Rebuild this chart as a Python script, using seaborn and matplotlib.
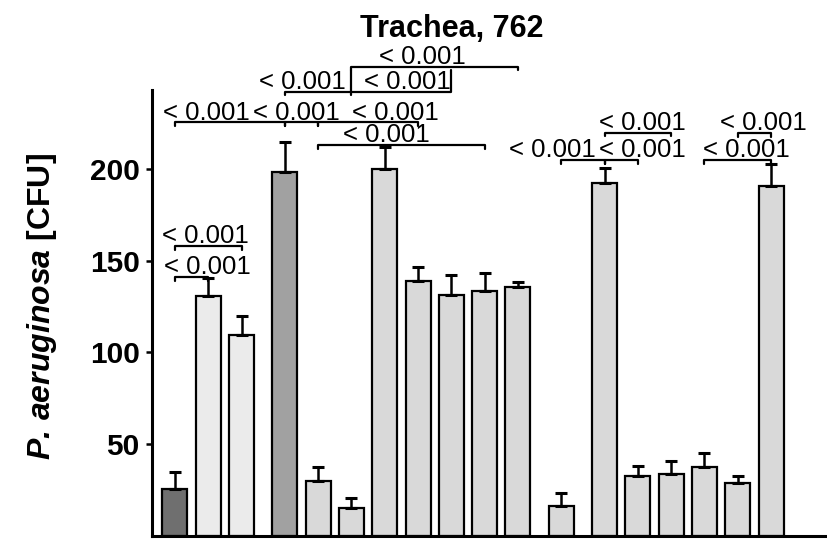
import numpy as np
import pandas as pd
import matplotlib
matplotlib.use("Agg")
import matplotlib.pyplot as plt
import seaborn as sns

# Mean CFU counts and SEM for each group, left to right
cfu_mean = [25.2, 131.0, 109.4, 198.8, 29.9, 15.2, 200.1, 139.1, 131.3,
            133.4, 135.6, 16.3, 192.8, 32.3, 33.8, 37.6, 28.5, 191.1]
cfu_sem = [9.3, 9.9, 10.7, 16.1, 7.4, 5.1, 12.4, 7.8, 10.9,
           10.0, 2.9, 7.1, 8.2, 5.8, 6.9, 7.3, 3.8, 11.7]
# experimental block of each bar (blocks are separated by a small gap)
block = [0, 0, 0, 1, 1, 1, 1, 1, 1, 1, 1, 2, 3, 3, 3, 3, 3, 3]

# pairwise comparisons: first bar, second bar, bracket height (CFU)
cmp_first = [5, 3, 5, 0, 3, 4, 4, 11, 12, 12, 16, 15, 0, 0]
cmp_second = [10, 5, 8, 3, 4, 7, 9, 12, 13, 14, 17, 17, 2, 1]
cmp_height = [256.2, 242.5, 242.5, 225.7, 225.7, 225.7, 213.4,
              205.2, 205.2, 220.1, 219.8, 205.2, 158.2, 141.3]
p_labels = ["< 0.001"] * len(cmp_first)

title = "Trachea, 762"
yticks = [50, 100, 150, 200]

# ---- styling -------------------------------------------------------------
bar_colors = ["#6f6f6f", "#ebebeb", "#ebebeb", "#a1a1a1"] + ["#d9d9d9"] * 14
# label shift along x (bar units) and bracket end-tick length (CFU)
label_shift = [-0.38, -0.46, 0.17, -0.71, -0.14, 0.82, -0.45,
               -0.91, 0.64, 0.14, 0.26, 0.25, -0.09, 0.47]
tick_len = [-2, -2, 12, -2, -2, -2, -2, -2, -2, -2, -2, -2, -2, -2]

sns.set_style("ticks")
plt.rcParams["font.family"] = ["Liberation Sans", "DejaVu Sans"]
plt.rcParams["mathtext.fontset"] = "custom"
plt.rcParams["mathtext.rm"] = "Liberation Sans"
plt.rcParams["mathtext.it"] = "Liberation Sans:italic"
plt.rcParams["mathtext.bf"] = "Liberation Sans:bold"
plt.rcParams["mathtext.bfit"] = "Liberation Sans:italic:bold"
for key in ("text.color", "axes.labelcolor", "axes.edgecolor",
            "xtick.color", "ytick.color", "axes.titlecolor"):
    plt.rcParams[key] = "black"

n = len(cfu_mean)
positions = np.arange(n) + 0.3 * np.array(block)
df = pd.DataFrame({"pos": positions, "cfu": cfu_mean,
                   "bar": [f"b{i}" for i in range(n)]})

fig = plt.figure(figsize=(8.27, 5.40), dpi=100)
ax = fig.add_axes([152 / 827, 4.5 / 540, 1 - 152 / 827, 445.5 / 540])

sns.barplot(data=df, x="pos", y="cfu", hue="bar", palette=bar_colors,
            native_scale=True, width=0.75, errorbar=None, dodge=False,
            legend=False, edgecolor="black", linewidth=1.6, ax=ax)

ax.errorbar(positions, cfu_mean, yerr=[np.zeros(n), cfu_sem], fmt="none",
            ecolor="black", elinewidth=1.8, capsize=4, capthick=2.2, zorder=3)

ax.set_xlim(-0.69, 19.58)
ax.set_ylim(0, 243.4)
ax.set_xticks([])
ax.set_xlabel("")
ax.set_yticks(yticks)
ax.tick_params(axis="y", length=4, width=1.8, labelsize=21.5, pad=5,
               colors="black")
for lab in ax.get_yticklabels():
    lab.set_fontweight("bold")
sns.despine(ax=ax)
for side in ("left", "bottom"):
    ax.spines[side].set_linewidth(2.2)
    ax.spines[side].set_color("black")

# mathtext pads "." with a thin space; \! removes it again
ax.set_ylabel(r"$\mathbfit{P.\!\ aeruginosa}$ [CFU]", fontsize=23,
              fontweight="bold", color="black")
ax.yaxis.set_label_coords(-0.1376, 0.515)

ax.set_title(title, x=0.444, y=1.118, fontsize=22, fontweight="bold",
             va="baseline", pad=0, color="black")

# significance brackets with p-values
for a, b, h, lab, dx, t in zip(cmp_first, cmp_second, cmp_height, p_labels,
                               label_shift, tick_len):
    xa, xb = positions[a], positions[b]
    ax.plot([xa, xa, xb, xb], [h + t, h, h, h + t], color="black",
            lw=1.6, clip_on=False, zorder=4)
    ax.annotate(lab, xy=((xa + xb) / 2 + dx, h), xytext=(0, 2),
                textcoords="offset points", ha="center", va="baseline",
                fontsize=18.5, color="black", annotation_clip=False)

fig.savefig("out.png", dpi=100)
